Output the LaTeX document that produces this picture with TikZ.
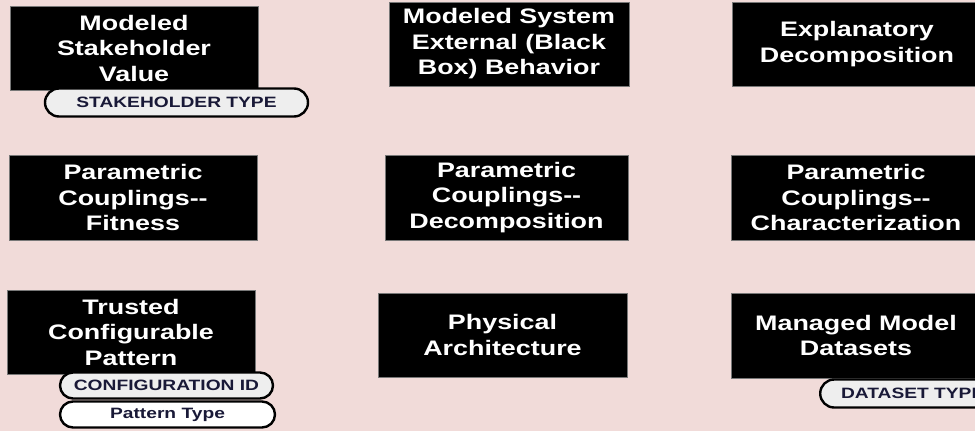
\documentclass[tikz,border=0pt]{standalone}
\usepackage{fontspec}
\newfontfamily\boxfont{Liberation Sans Bold}[FakeStretch=1.28]
\usetikzlibrary{shapes.misc}
\definecolor{bgpink}{RGB}{241,219,217}
\definecolor{tagtext}{RGB}{25,25,55}
\definecolor{taggray}{RGB}{238,238,238}
\definecolor{boxedge}{RGB}{120,120,120}
\tikzset{
  blackbox/.style={draw=boxedge, line width=0.8pt, fill=black, text=white,
    align=center, inner sep=0pt,
    font=\boxfont\fontsize{21}{25.5}\selectfont},
  tagbox/.style={rounded rectangle, draw=black, line width=2.4pt, fill=taggray,
    text=tagtext, inner sep=0pt, font=\boxfont\fontsize{15}{18}\selectfont},
  whitetag/.style={tagbox, fill=white}
}
\begin{document}
\begin{tikzpicture}[x=1pt,y=-1pt]
\fill[bgpink] (0,0) rectangle (975,431);
\useasboundingbox (0,0) rectangle (975,431);
% row 1
\node[blackbox, minimum width=248pt, minimum height=84pt] (msv) at (134,48) {Modeled\\Stakeholder\\Value};
\node[blackbox, minimum width=240pt, minimum height=84pt] (mseb) at (509,44) {Modeled System\\External (Black\\Box) Behavior};
\node[blackbox, minimum width=250pt, minimum height=84pt] (ed) at (857,44) {Explanatory\\Decomposition};
\node[tagbox, minimum width=263pt, minimum height=28pt] (st) at (176.5,102.5) {STAKEHOLDER TYPE};
% row 2
\node[blackbox, minimum width=248pt, minimum height=85pt] (pcf) at (133,197.5) {Parametric\\Couplings--\\Fitness};
\node[blackbox, minimum width=243pt, minimum height=85pt] (pcd) at (506.5,197.5) {Parametric\\Couplings--\\Decomposition};
\node[blackbox, minimum width=250pt, minimum height=85pt] (pcc) at (856,197.5) {Parametric\\Couplings--\\Characterization};
% row 3
\node[blackbox, minimum width=248pt, minimum height=84pt] (tcp) at (131,332) {Trusted\\Configurable\\Pattern};
\node[blackbox, minimum width=249pt, minimum height=84pt] (pa) at (502.5,335) {Physical\\Architecture};
\node[blackbox, minimum width=250pt, minimum height=85pt] (mmd) at (856,335.5) {Managed Model\\Datasets};
\node[tagbox, minimum width=213pt, minimum height=26pt] (cid) at (166.5,385.5) {CONFIGURATION ID};
\node[whitetag, minimum width=215pt, minimum height=26pt] (ptype) at (167.5,414.5) {Pattern Type};
\node[tagbox, minimum width=185pt, minimum height=28pt, anchor=west] (dst) at (819,393.5) {DATASET TYPE};
\end{tikzpicture}
\end{document}
